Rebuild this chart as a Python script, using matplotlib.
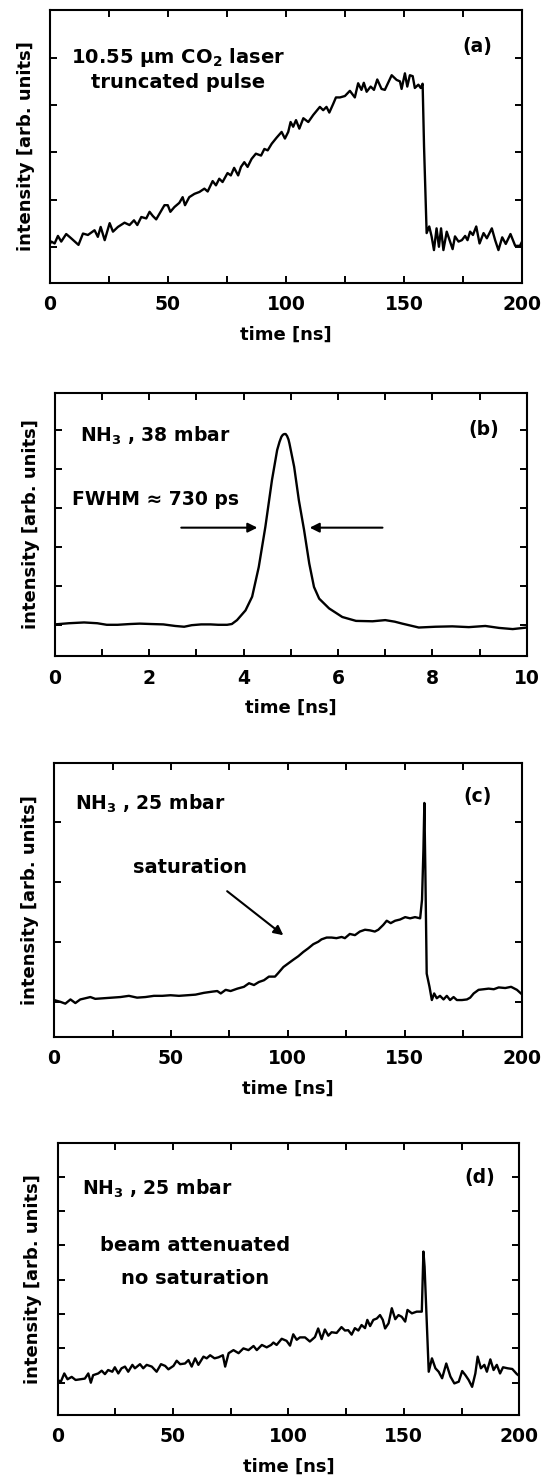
import matplotlib
matplotlib.use("Agg")
import matplotlib.pyplot as plt
from matplotlib.ticker import MultipleLocator

plt.rcParams['font.family'] = ['DejaVu Sans']
plt.rcParams['font.weight'] = 'bold'
plt.rcParams['mathtext.fontset'] = 'dejavusans'
plt.rcParams['mathtext.default'] = 'bf'

# (a) truncated CO2 laser pulse, time in ns, intensity in tick units
t_a = [0, 0.6, 2, 3.4, 4.8, 6.9, 9, 12.1, 14, 16.1, 18.9, 20.3, 21.5, 23.2, 25.3,
       26.7, 28.8, 31.6, 33.7, 35.6, 37, 38.7, 40.8, 42.2, 43.6, 45, 46.4, 48.5,
       49.9, 51, 52.7, 54.8, 56.2, 57.2, 59, 61.2, 63.3, 65.4, 66.8, 68.9, 70.3,
       71.7, 73.1, 75.2, 76.6, 78, 79.7, 80.9, 82.3, 83.7, 85.4, 87.2, 89.4, 90.8,
       92.2, 93.9, 96, 98.1, 99.5, 100.9, 101.9, 103, 104.2, 105.6, 107.3, 109.4,
       111.5, 114.3, 115.7, 117.1, 118.3, 120, 121.1, 122.8, 124.9, 127, 129.1,
       130.5, 131.9, 132.9, 134.1, 135.8, 137.2, 138.6, 140.4, 141.8, 144.7, 146.8,
       148.2, 148.9, 150.3, 151.3, 152.4, 153.6, 154.5, 156, 157, 157.8, 158.4,
       159.5, 160.6, 161.6, 162.6, 163.7, 164.7, 165.6, 166.6, 168, 169.4, 170.5,
       171.5, 173, 174.4, 175.8, 176.8, 177.9, 179.1, 180.5, 181.9, 183.6, 185,
       187.1, 188.5, 189.9, 191.5, 193, 195, 197, 199, 200]
I_a = [0.06, 0.11, 0.07, 0.23, 0.11, 0.27, 0.18, 0.04, 0.28, 0.25, 0.35, 0.21, 0.42,
       0.14, 0.50, 0.32, 0.42, 0.51, 0.46, 0.56, 0.46, 0.63, 0.60, 0.74, 0.65, 0.58,
       0.70, 0.88, 0.88, 0.74, 0.84, 0.93, 1.05, 0.88, 1.05, 1.12, 1.16, 1.23, 1.17,
       1.39, 1.30, 1.44, 1.37, 1.56, 1.51, 1.67, 1.51, 1.69, 1.79, 1.69, 1.86, 1.97,
       1.93, 2.07, 2.04, 2.18, 2.31, 2.43, 2.29, 2.43, 2.64, 2.54, 2.68, 2.50, 2.72,
       2.64, 2.79, 2.96, 2.89, 2.96, 2.84, 3.03, 3.16, 3.16, 3.19, 3.30, 3.16, 3.46,
       3.32, 3.47, 3.28, 3.39, 3.32, 3.54, 3.34, 3.32, 3.63, 3.53, 3.50, 3.34, 3.67,
       3.39, 3.63, 3.61, 3.36, 3.43, 3.36, 3.45, 2.12, 0.29, 0.43, 0.22, -0.07, 0.39,
       0.00, 0.39, -0.07, 0.32, 0.11, -0.05, 0.22, 0.11, 0.14, 0.23, 0.14, 0.32, 0.25,
       0.43, 0.07, 0.29, 0.18, 0.39, 0.14, -0.07, 0.20, 0.06, 0.27, 0.02, 0.02, 0.12]

# (b) NH3 38 mbar, short pulse
t_b = [0, 0.3, 0.62, 0.9, 1.1, 1.33, 1.6, 1.8, 2.03, 2.3, 2.55, 2.74, 2.9, 3.1, 3.3,
       3.46, 3.65, 3.75, 3.86, 4.04, 4.18, 4.32, 4.46, 4.6, 4.71, 4.76, 4.8, 4.83,
       4.86, 4.89, 4.92, 4.95, 4.97, 5.07, 5.17, 5.28, 5.39, 5.49, 5.6, 5.81, 6.09,
       6.38, 6.73, 7.0, 7.2, 7.36, 7.71, 8.06, 8.42, 8.77, 9.12, 9.41, 9.7, 10.0]
I_b = [0.02, 0.05, 0.07, 0.05, 0.01, 0.01, 0.03, 0.04, 0.03, 0.02, -0.02, -0.04, 0.0,
       0.02, 0.02, 0.01, 0.01, 0.03, 0.13, 0.38, 0.73, 1.49, 2.52, 3.72, 4.49, 4.70,
       4.83, 4.88, 4.90, 4.90, 4.85, 4.76, 4.66, 4.06, 3.20, 2.44, 1.58, 0.98, 0.68,
       0.43, 0.21, 0.11, 0.10, 0.13, 0.09, 0.04, -0.06, -0.04, -0.03, -0.05, -0.02,
       -0.07, -0.10, -0.06]

# (c) NH3 25 mbar, saturation
t_c = [0, 2.7, 4.8, 7.0, 9.1, 11.2, 13.4, 15.5, 17.6, 21.2, 24.8, 28.4, 32, 35.5,
       39.1, 42.7, 46.3, 49.8, 53.4, 57, 60.5, 64.1, 67.7, 69.8, 71.3, 73.4, 75.5,
       78.4, 81.2, 83.4, 85.5, 87.6, 89.8, 91.9, 94.5, 95.9, 98.1, 100.2, 102.3,
       104.5, 106.6, 108.7, 110.9, 113, 114.4, 116.6, 118.7, 120.8, 123, 124.4,
       126.5, 128.7, 130.8, 133, 135.1, 137.2, 138.7, 140.8, 142.3, 144, 145.9, 148,
       150.2, 152.3, 154.4, 156.6, 157.4, 158, 158.4, 158.8, 159.4, 160.6, 161.6,
       162.6, 163.7, 165.1, 166.6, 168, 169.4, 170.9, 172.3, 174.5, 176.6, 178,
       179.5, 181.6, 183.8, 185.9, 188.1, 190.2, 193, 195.5, 198, 200]
I_c = [0.03, 0.0, -0.03, 0.04, -0.02, 0.04, 0.06, 0.08, 0.05, 0.06, 0.07, 0.08, 0.10,
       0.07, 0.08, 0.10, 0.10, 0.11, 0.10, 0.11, 0.12, 0.15, 0.17, 0.18, 0.14, 0.20,
       0.18, 0.22, 0.25, 0.31, 0.28, 0.33, 0.36, 0.42, 0.42, 0.48, 0.58, 0.64, 0.70,
       0.76, 0.83, 0.89, 0.96, 1.00, 1.04, 1.07, 1.07, 1.06, 1.08, 1.06, 1.13, 1.11,
       1.17, 1.20, 1.19, 1.17, 1.20, 1.28, 1.35, 1.31, 1.35, 1.37, 1.41, 1.39, 1.41,
       1.39, 1.70, 2.53, 3.31, 2.25, 0.47, 0.25, 0.03, 0.14, 0.06, 0.10, 0.04, 0.10,
       0.03, 0.08, 0.03, 0.03, 0.04, 0.07, 0.14, 0.20, 0.21, 0.22, 0.21, 0.24, 0.23,
       0.25, 0.20, 0.13]

# (d) NH3 25 mbar, beam attenuated
t_d = [0, 1.4, 2.9, 4.3, 6.1, 7.8, 9.7, 11.8, 13.3, 14.4, 15.4, 17.6, 19.1, 20.5,
       21.9, 23.7, 24.8, 26.3, 27.7, 29.2, 30.6, 32.4, 33.5, 35.7, 37.1, 38.6, 40.8,
       42.9, 44.8, 46.6, 48, 50.2, 51.6, 53.1, 55.2, 56.7, 58.1, 59.6, 61, 63.2,
       64.6, 66.1, 68, 69.7, 71.6, 72.6, 74.1, 76.2, 78.4, 80.5, 82.7, 84.9, 86.3,
       88.5, 90.6, 92.5, 93.5, 94.9, 97.1, 99.2, 100.7, 102.1, 103.6, 105, 107.2,
       109.3, 111.5, 112.9, 114.4, 115.8, 117.3, 118.7, 120.9, 123, 124.5, 125.9,
       127.4, 128.8, 130.3, 131.7, 133.2, 134.2, 135.4, 136.8, 138.3, 139.7, 140.9,
       141.9, 143.4, 144.8, 146.3, 147.7, 149.1, 150.6, 151.6, 153.5, 155.6, 157.8,
       158.5, 159.0, 159.7, 160.8, 162.2, 163.7, 165.1, 166.6, 168.4, 170.2, 171.9,
       173.8, 175.3, 176.7, 178.1, 179.6, 181, 182, 183.4, 184.9, 186, 187.5, 188.9,
       190.3, 191.7, 193, 195, 197, 199, 200]
I_d = [0.08, 0.03, 0.27, 0.10, 0.17, 0.08, 0.10, 0.12, 0.27, 0.00, 0.22, 0.27, 0.35,
       0.25, 0.37, 0.32, 0.45, 0.27, 0.42, 0.47, 0.32, 0.52, 0.42, 0.54, 0.42, 0.52,
       0.47, 0.32, 0.54, 0.49, 0.39, 0.49, 0.64, 0.54, 0.56, 0.66, 0.47, 0.71, 0.52,
       0.76, 0.71, 0.80, 0.71, 0.74, 0.80, 0.47, 0.86, 0.95, 0.86, 1.00, 0.95, 1.07,
       0.95, 1.10, 1.03, 1.10, 1.17, 1.10, 1.28, 1.22, 1.08, 1.41, 1.25, 1.32, 1.32,
       1.20, 1.33, 1.58, 1.27, 1.55, 1.37, 1.47, 1.45, 1.62, 1.52, 1.53, 1.40, 1.59,
       1.52, 1.68, 1.59, 1.83, 1.65, 1.83, 1.87, 1.97, 1.83, 1.58, 1.73, 2.17, 1.85,
       1.97, 1.92, 1.78, 2.12, 2.02, 2.07, 2.07, 3.82, 3.38, 2.21, 0.32, 0.71, 0.42,
       0.32, 0.13, 0.56, 0.18, -0.02, 0.03, 0.34, 0.22, 0.08, -0.12, 0.27, 0.76, 0.42,
       0.52, 0.32, 0.68, 0.37, 0.52, 0.27, 0.45, 0.42, 0.40, 0.25, 0.20]

W, H = 547, 1480
fig = plt.figure(figsize=(W / 100, H / 100), dpi=100)


def make_axes(left, right, top, bottom):
    return fig.add_axes([left / W, 1 - bottom / H, (right - left) / W, (bottom - top) / H])


def style(ax, xmax, major, minor, ylim, nticks):
    ax.set_xlim(0, xmax)
    ax.set_ylim(*ylim)
    ax.xaxis.set_major_locator(MultipleLocator(major))
    ax.xaxis.set_minor_locator(MultipleLocator(minor))
    ax.set_yticks(range(nticks))
    ax.tick_params(which='both', direction='in', top=True, right=True,
                   length=5, width=1.4, labelsize=13.5, pad=9)
    ax.tick_params(axis='y', labelleft=False)
    for s in ax.spines.values():
        s.set_linewidth(1.5)
    ax.set_xlabel('time [ns]', fontsize=13, fontweight='bold', labelpad=8)
    ax.set_ylabel('intensity [arb. units]', fontsize=13, fontweight='bold', labelpad=11)


lw = 1.7

# (a)
ax = make_axes(49.9, 522.3, 10, 282.7)
ax.plot(t_a, I_a, color='black', lw=lw)
style(ax, 200, 50, 25, (-0.76, 5.01), 5)
ax.text(54.2, 3.89, '10.55 μm CO$_2$ laser', ha='center', va='baseline', fontsize=14)
ax.text(54.2, 3.36, 'truncated pulse', ha='center', va='baseline', fontsize=14)
ax.text(187.2, 4.13, '(a)', ha='right', va='baseline', fontsize=13.5)

# (b)
ax = make_axes(54.8, 526.9, 392.7, 656)
ax.plot(t_b, I_b, color='black', lw=lw)
style(ax, 10, 2, 1, (-0.79, 5.96), 6)
ax.text(0.54, 4.7, 'NH$_3$ , 38 mbar', ha='left', va='baseline', fontsize=13.5)
ax.text(0.37, 3.08, 'FWHM ≈ 730 ps', ha='left', va='baseline', fontsize=13.5)
ax.text(9.41, 4.87, '(b)', ha='right', va='baseline', fontsize=13.5)
arrow = dict(arrowstyle='-|>', lw=1.5, color='black', mutation_scale=14)
ax.annotate('', xy=(4.35, 2.5), xytext=(2.62, 2.5), arrowprops=arrow)
ax.annotate('', xy=(5.34, 2.5), xytext=(7.0, 2.5), arrowprops=arrow)

# (c)
ax = make_axes(54.1, 521.6, 762.7, 1036.7)
ax.plot(t_c, I_c, color='black', lw=lw)
style(ax, 200, 50, 25, (-0.58, 3.98), 4)
ax.text(8.9, 3.19, 'NH$_3$ , 25 mbar', ha='left', va='baseline', fontsize=13.5)
ax.text(187.3, 3.33, '(c)', ha='right', va='baseline', fontsize=13.5)
ax.text(58.2, 2.15, 'saturation', ha='center', va='baseline', fontsize=14)
ax.annotate('', xy=(99, 1.08), xytext=(73.1, 1.87), arrowprops=arrow)

# (d)
ax = make_axes(57.6, 519.2, 1142.7, 1415)
ax.plot(t_d, I_d, color='black', lw=lw)
style(ax, 200, 50, 25, (-0.94, 6.99), 7)
ax.text(10.6, 5.47, 'NH$_3$ , 25 mbar', ha='left', va='baseline', fontsize=13.5)
ax.text(189.7, 5.81, '(d)', ha='right', va='baseline', fontsize=13.5)
ax.text(59.6, 3.85, 'beam attenuated', ha='center', va='baseline', fontsize=14)
ax.text(59.6, 2.87, 'no saturation', ha='center', va='baseline', fontsize=14)

fig.savefig('out.png', dpi=100)
